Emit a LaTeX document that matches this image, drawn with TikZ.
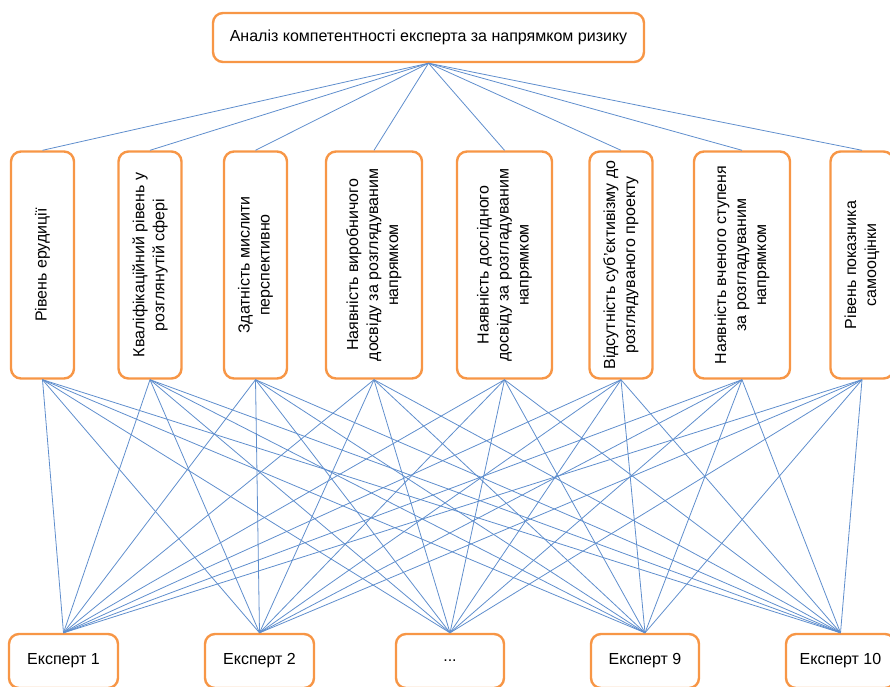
\documentclass[tikz,border=0pt]{standalone}
\usepackage{fontspec}
\setmainfont{Liberation Sans}
\usetikzlibrary{positioning}
\definecolor{boxorange}{RGB}{247,150,70}
\definecolor{linkblue}{RGB}{95,142,205}
\tikzset{box/.style = {draw = boxorange, line width = 2.4, rounded corners = 10, fill = white, align = center, inner sep = 4, font = \fontsize{16}{20}\selectfont},
  critbox/.style = {box, rotate = 90, minimum height = 63},
  link/.style = {draw = linkblue, line width = 0.8}}

\begin{document}
\begin{tikzpicture}[x = 1pt, y = -1pt]
    \clip (0, 0) rectangle (890, 686);

    \node [box, minimum width = 431, minimum height = 49] (goal) at (428.5, 37.5) {Аналіз компетентності експерта за напрямком ризику};

    % criteria (rotated, so east is the top side)
    \node [critbox, minimum width = 227] (c1) at (42.5, 265) {Рівень ерудиції};
    \node [critbox, minimum width = 227] (c2) at (150, 265) {Кваліфікаційний рівень у\\розглянутій сфері};
    \node [critbox, minimum width = 227] (c3) at (255.5, 265) {Здатність мислити\\перспективно};
    \node [critbox, minimum width = 227, minimum height = 96] (c4) at (374, 265) {Наявність виробничого\\досвіду за розглядуваним\\напрямком};
    \node [critbox, minimum width = 227, minimum height = 95] (c5) at (504.5, 265) {Наявність дослідного\\досвіду за розгладуваним\\напрямком};
    \node [critbox, minimum width = 227] (c6) at (621, 265) {Відсутність суб’єктивізму до\\розглядуваного проекту};
    \node [critbox, minimum width = 227, minimum height = 96] (c7) at (742, 265) {Наявність вченого ступеня\\за розгладуваним\\напрямком};
    \node [critbox, minimum width = 227] (c8) at (862, 265) {Рівень показника\\самооцінки};

    \node [box, minimum width = 109, minimum height = 54] (e1) at (63.5, 661) {Експерт 1};
    \node [box, minimum width = 109, minimum height = 54] (e2) at (259.5, 661) {Експерт 2};
    \node [box, minimum width = 108, minimum height = 54] (e3) at (450, 661) {...};
    \node [box, minimum width = 108, minimum height = 54] (e4) at (645, 661) {Експерт 9};
    \node [box, minimum width = 109, minimum height = 54] (e5) at (840.5, 661) {Експерт 10};

    \foreach \i in {1, ..., 8} {
      \draw [link] (goal.south) -- (c\i.east);
      \foreach \j in {1, ..., 5}
        \draw [link] (c\i.west) -- (e\j.north);
    }
  \end{tikzpicture}
\end{document}
